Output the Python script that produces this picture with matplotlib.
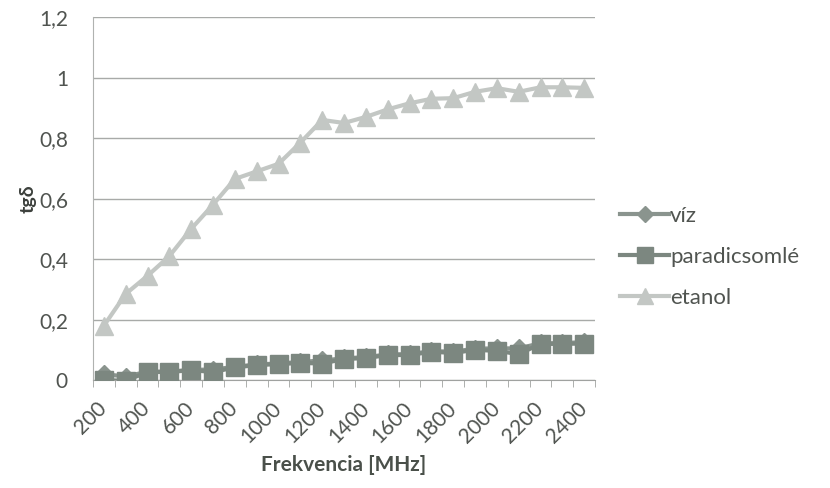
import numpy as np
import matplotlib.pyplot as plt
from matplotlib.ticker import FuncFormatter

plt.rcParams['font.family'] = ['Lato', 'DejaVu Sans']

# Frequencies in MHz (category axis)
freq = list(range(200, 2401, 100))

viz = [0.02, 0.012, 0.028, 0.028, 0.034, 0.035, 0.044, 0.052, 0.055, 0.06, 0.065, 0.072,
       0.076, 0.085, 0.086, 0.096, 0.094, 0.104, 0.105, 0.105, 0.122, 0.122, 0.126]
paradicsomle = [0.0, -0.002, 0.027, 0.027, 0.033, 0.027, 0.042, 0.05, 0.053, 0.057, 0.055, 0.07,
                0.073, 0.083, 0.083, 0.094, 0.09, 0.1, 0.097, 0.086, 0.12, 0.12, 0.121]
etanol = [0.18, 0.285, 0.345, 0.41, 0.50, 0.58, 0.665, 0.69, 0.715, 0.785, 0.86, 0.85,
          0.87, 0.895, 0.915, 0.93, 0.932, 0.953, 0.965, 0.953, 0.968, 0.968, 0.966]

x = np.arange(len(freq))

fig = plt.figure(figsize=(8.3, 4.88), dpi=100)
ax = fig.add_axes([0.112, 0.221, 0.605, 0.744])

ax.plot(x, viz, color='#8a948e', lw=3, marker='D', ms=9, label='víz', zorder=3)
ax.plot(x, paradicsomle, color='#7c8780', lw=3, marker='s', ms=13, label='paradicsomlé', zorder=4)
ax.plot(x, etanol, color='#c3c7c4', lw=3, marker='^', ms=13, label='etanol', zorder=5)

ax.set_ylim(0, 1.2)
ax.set_yticks(np.arange(0, 1.21, 0.2))
ax.yaxis.set_major_formatter(FuncFormatter(lambda v, p: ('%g' % round(v, 1)).replace('.', ',')))
ax.set_xlim(-0.5, len(freq) - 0.5)
ax.set_xticks(x[::2])
ax.set_xticklabels([str(f) for f in freq[::2]], rotation=45, ha='right',
                   rotation_mode='anchor', va='center')
ax.set_xticks(np.arange(-0.5, len(freq)), minor=True)

ax.grid(axis='y', color='#a8aaa8', lw=1)
ax.set_axisbelow(True)
for s in ['top', 'right']:
    ax.spines[s].set_visible(False)
ax.spines['left'].set_color('#b0b2b0')
ax.spines['bottom'].set_color('#a0a2a0')
ax.tick_params(axis='y', length=0, labelsize=15, labelcolor='#505450', pad=18)
ax.tick_params(axis='x', which='major', length=0, labelsize=15, labelcolor='#505450', pad=18)
ax.tick_params(axis='x', which='minor', length=5, color='#a0a2a0', direction='out')

ax.set_ylabel('tgδ', fontsize=14, fontweight='bold', color='#3c403c', labelpad=2)
ax.set_xlabel('Frekvencia [MHz]', fontsize=15, fontweight='bold', color='#4a504a', labelpad=6)

ax.legend(loc='center left', bbox_to_anchor=(1.01, 0.34), frameon=False, fontsize=16,
          labelcolor='#505450', handlelength=2.2, handletextpad=0.05, labelspacing=0.95,
          markerscale=0.9)

fig.savefig('out.png', dpi=100)
